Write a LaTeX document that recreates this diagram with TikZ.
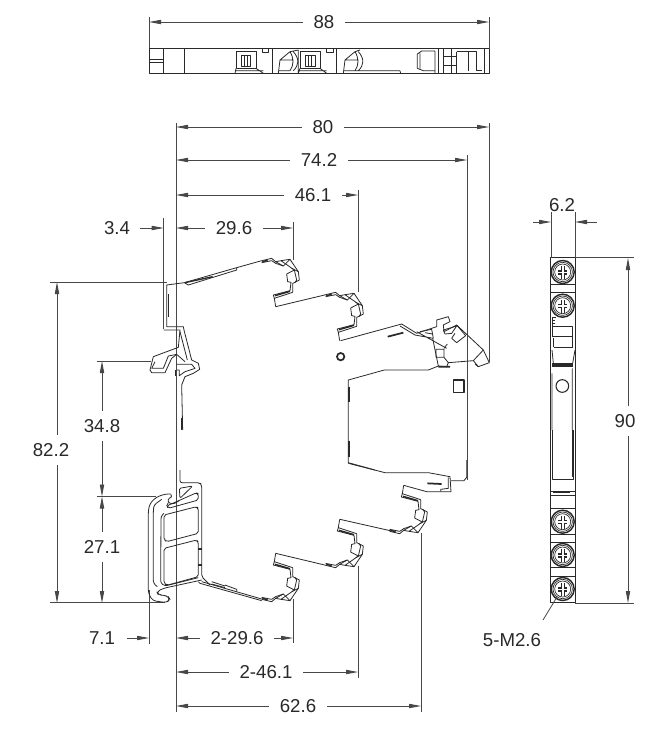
\documentclass[tikz,border=0pt]{standalone}
\usepackage{fontspec}
\setmainfont{Liberation Sans}
\usetikzlibrary{arrows.meta}
\definecolor{ink}{gray}{0.16}
\definecolor{dimink}{gray}{0.28}
\tikzset{
  part/.style={draw=ink,line width=0.6pt,line join=round},
  heavy/.style={draw=ink,line width=1.5pt},
  ext/.style={draw=dimink,line width=0.6pt},
  dimarrow/.style={draw=dimink,line width=0.6pt,-{Stealth[length=9pt,width=3.2pt,inset=0pt]}},
  dimlabel/.style={text=ink,font=\fontsize{14}{16}\selectfont,inner xsep=8pt,inner ysep=1pt,fill=white},
  zoomed/.style={scale=1/3}
}
% horizontal dimension with label in its line: name,y,x1,x2,xtext,text
\newcommand\hdimension[6]{%
  \node[dimlabel] (#1) at (#5,#2) {#6};
  \coordinate (#1L) at (#3,#2); \coordinate (#1R) at (#4,#2);
  \draw[dimarrow] (#1) -- (#1L); \draw[dimarrow] (#1) -- (#1R);}
% vertical dimension: name,x,y1,y2,ytext,text
\newcommand\vdimension[6]{%
  \node[dimlabel,inner xsep=1pt,inner ysep=6pt] (#1) at (#2,#5) {#6};
  \coordinate (#1T) at (#2,#3); \coordinate (#1B) at (#2,#4);
  \draw[dimarrow] (#1) -- (#1T); \draw[dimarrow] (#1) -- (#1B);}
\newcommand\extline[3]{\coordinate (e#1a) at (#2); \coordinate (e#1b) at (#3); \draw[ext] (e#1a) -- (e#1b);}
% one terminal claw, in zoomed coordinates
\newcommand\claw{%
  \draw[part] (20,32) -- (50,25) -- (62,35) -- (78,32) -- (105,28) -- (130,65) -- (133,90) -- (120,97) -- (113,100) -- (113,127) -- (58,145) -- (62,170);
  \draw[part] (20,38) -- (50,32) -- (62,40) -- (85,48) -- (105,28);
  \draw[part] (62,35) -- (85,48) (78,32) -- (118,60) -- (125,90) -- (120,97);
  \draw[part] (118,60) -- (95,72) -- (98,95) -- (108,97) -- (105,122) -- (55,135) -- (58,145) (110,55) -- (130,65);
  \draw[heavy,line width=1.1pt] (60,137) -- (105,124) (22,35) -- (38,31);}
\begin{document}
\begin{tikzpicture}[x=0.75pt,y=-0.75pt]
\useasboundingbox[fill=white] (0,0) rectangle (666,729);

% ---------- top view
\begin{scope}[shift={(130,0)},zoomed]
\draw[part] (57,146) rectangle (1078,220);
\draw[part] (57,178) -- (100,178) (57,188) -- (100,188) (100,146) -- (100,220) (162,146) -- (162,220);
\draw[part] (318,155) rectangle (378,205) (333,165) rectangle (362,200) (342,165) -- (342,200) (352,165) -- (352,200);
\draw[part] (318,205) -- (315,220) (378,205) -- (400,220) (315,212) -- (400,212);
\draw[part] (397,146) rectangle (415,158) (428,146) -- (428,220);
\draw[part] (445,220) -- (450,180) -- (480,155) -- (505,150) (450,180) -- (490,180) (480,155) .. controls (492,175) and (492,195) .. (480,212) (490,155) .. controls (508,175) and (508,195) .. (490,212) (445,212) -- (480,212);
\draw[part] (510,155) rectangle (570,205) (525,165) rectangle (555,200) (534,165) -- (534,200) (544,165) -- (544,200);
\draw[part] (505,150) -- (505,220) (510,205) -- (505,220) (570,205) -- (590,220) (505,212) -- (590,212);
\draw[part] (590,146) rectangle (610,158) (620,146) -- (620,220);
\draw[part] (640,220) -- (645,180) -- (675,155) -- (690,150) (645,180) -- (685,180) (675,155) .. controls (687,175) and (687,195) .. (675,212) (685,155) .. controls (703,175) and (703,195) .. (685,212) (640,212) -- (810,212) (810,212) -- (812,220);
\draw[part] (862,162) -- (875,153) -- (915,153) -- (915,220) (862,162) -- (862,205) -- (880,212) -- (915,212) (870,160) -- (870,205);
\draw[part] (925,146) -- (925,220) (940,146) -- (940,220) (965,146) -- (965,220) (980,155) -- (980,220) (940,170) -- (980,170) (940,195) -- (980,195) (980,155) -- (1038,155) -- (1038,212) -- (1055,212) (1015,155) -- (1015,212) (1062,146) -- (1062,220);
\end{scope}
\extline{ta}{149,17}{149,48}
\extline{tb}{489,17}{489,48}
\hdimension{d88}{22}{149}{489}{324}{88}

% ---------- extension lines, main view
\extline{a}{176,123}{176,712}
\extline{b}{489,123}{489,362}
\extline{c}{467,155}{467,480}
\extline{d}{358,190}{358,292}
\extline{e}{293,222}{293,260}
\extline{f}{163.7,218}{163.7,329}
\extline{g}{50,282}{167,282}
\extline{h}{97,361}{151,361}
\extline{i}{97,496.5}{156,496.5}
\extline{j}{50,602.7}{165,602.7}
\extline{k}{149,590}{149,644}
\extline{l}{293,599}{293,643}
\extline{m}{358,566}{358,678}
\extline{n}{421,533}{421,712}

% ---------- main view, dimensions
\hdimension{d80}{127}{176}{489}{323}{80}
\hdimension{d74}{160}{176}{467}{319}{74.2}
\hdimension{d46}{195}{176}{358}{313}{46.1}
\hdimension{d29}{228}{176}{293}{234}{29.6}
\node[dimlabel,inner xsep=7pt] (d34) at (117,228) {3.4};
\coordinate (d34e) at (163.7,228);
\draw[dimarrow] (d34) -- (d34e);
\hdimension{dm29}{638}{176}{293}{237}{2-29.6}
\hdimension{dm46}{672}{176}{358}{266}{2-46.1}
\hdimension{d62}{706}{176}{421}{298}{62.6}
\node[dimlabel,inner xsep=9pt] (d71) at (102,638) {7.1};
\coordinate (d71e) at (149,638);
\draw[dimarrow] (d71) -- (d71e);
% 82.2 sits left of its line
\node[dimlabel,inner xsep=1pt,inner ysep=6pt] (d82) at (51,450) {82.2};
\coordinate (d82T) at (57,282); \coordinate (d82B) at (57,603);
\draw[dimarrow] (d82.north -| d82T) -- (d82T);
\draw[dimarrow] (d82.south -| d82B) -- (d82B);
\vdimension{d348}{102}{361}{496.5}{426}{34.8}
\vdimension{d271}{102}{496.5}{603}{547}{27.1}

% ---------- upper left
\begin{scope}[shift={(130,230)},zoomed]
\draw[part] (163,158) -- (110,165) -- (110,290) -- (160,290) -- (162,300) -- (185,390) -- (205,400) -- (209,418) -- (190,430) -- (165,440) -- (155,465) -- (158,600);
\draw[part] (101,300) -- (150,300) -- (145,352) -- (70,380) -- (60,420) -- (65,428) -- (105,428) -- (125,385) -- (140,373) -- (165,395);
\draw[part] (75,395) -- (65,415) -- (100,415) -- (115,378) -- (140,373);
\draw[part] (150,305) -- (172,390) (140,403) -- (185,403) -- (195,415) -- (165,425) -- (148,437) -- (148,420) -- (140,420);
\draw[heavy,line width=1.2pt] (115,192) -- (115,262) (155,565) -- (155,600) (137,420) -- (137,438);
\draw[part] (163,158) -- (175,165) -- (320,120) -- (320,113) -- (395,92) (163,158) -- (320,113);
\draw[part] (437,230) -- (588,194);
\draw[heavy,line width=1pt] (165,158) -- (248,140);
\end{scope}

% ---------- repeating terminals (upper)
\foreach \dx/\dy in {0/0,64/34}{
\begin{scope}[shift={(\dx,\dy)},shift={(255,250)},zoomed]
\claw
\end{scope}}

% ---------- relay and upper right
\begin{scope}[shift={(320,270)},zoomed]
\draw[part] (62,212) -- (245,162) -- (290,190) -- (350,170) -- (350,150) -- (385,140) -- (390,155) -- (370,165) -- (372,185) -- (410,165) -- (490,240) -- (508,278) -- (475,290) -- (460,272) -- (385,278) -- (380,290) -- (355,288) -- (338,205);
\draw[part] (240,168) -- (285,195) -- (340,205) (290,185) -- (380,235) (348,238) rectangle (372,262) (355,288) -- (325,300) -- (193,300) -- (85,330) -- (85,578) -- (165,600);
\draw[part] (372,262) -- (385,278) (372,235) -- (382,222) (300,185) -- (335,178) -- (340,205) (315,188) -- (338,192) (370,180) -- (410,168) -- (395,190) -- (375,192) -- (370,180) (395,205) -- (410,218) -- (437,197) (395,205) -- (405,190) (460,272) -- (490,240) (465,282) -- (475,290) (410,165) -- (437,197);
\draw[part,line width=0.8pt] (400,330) rectangle (432,368);
\draw[heavy,line width=1.3pt] (203,200) -- (250,188) (355,290) -- (390,290);
\draw[heavy,line width=1pt] (87,350) -- (87,397) (87,512) -- (87,560);
\draw[ink,line width=1.3pt] (62,260) circle (11);
\end{scope}
\begin{scope}[shift={(320,460)},zoomed]
\draw[part] (85,10) -- (195,38) -- (325,38) -- (390,50) -- (393,95) -- (320,95) -- (251,76);
\draw[part] (385,52) -- (385,85) -- (362,88) -- (362,95) (393,62) -- (432,62) -- (440,52) -- (440,0);
\draw[part] (60,178) -- (215,213);
\draw[heavy,line width=1.3pt] (322,70) -- (365,72);
\end{scope}

% ---------- repeating terminals (lower, mirrored)
\foreach \dx/\dy in {0/0,64/-34,128/-68}{
\begin{scope}[shift={(\dx,\dy)},shift={(255,610)},xscale=1/3,yscale=-1/3]
\claw
\end{scope}}

% ---------- lower block
\begin{scope}[shift={(130,470)},zoomed]
\draw[part] (215,335) -- (395,387) (205,335) -- (210,340) -- (395,392) (437,250) -- (588,286);
\draw[part] (245,335) -- (285,348) (245,342) -- (285,353) (285,345) -- (320,358) -- (320,365);
\end{scope}
\begin{scope}[shift={(140,480)},zoomed]
\draw[part,rounded corners=1.5pt] (120,-30) -- (120,8) -- (180,8) -- (185,15) -- (185,290) -- (210,315);
\draw[part,rounded corners=1.5pt] (72,105) -- (170,80) -- (175,85) -- (175,160) -- (80,185) -- (72,180) -- cycle;
\draw[part,rounded corners=1.5pt] (72,205) -- (170,180) -- (175,185) -- (175,290) -- (80,316) -- (72,310) -- cycle;
\draw[part,rounded corners=1.5pt] (80,78) -- (170,38) -- (175,42) -- (175,60) -- (85,85) -- cycle;
\draw[part,rounded corners=1pt] (118,25) -- (158,18) -- (120,55) -- cycle;
\draw[part,rounded corners=2.5pt] (92,42) -- (75,42) -- (48,52) -- (30,70) -- (25,90) -- (25,340) -- (38,362) -- (80,368) -- (90,358) -- (85,350) -- (70,345) -- (55,345) -- (50,335) -- (70,325) -- (185,300);
\draw[part,rounded corners=2pt] (65,58) -- (42,75) -- (40,90) -- (40,310) -- (52,320) (72,100) -- (63,108) -- (62,310) -- (75,318) -- (175,293);
\draw[part,rounded corners=1pt] (92,42) -- (96,52) -- (85,55) -- (85,68) -- (100,72) -- (118,62) (85,68) -- (80,78);
\draw[heavy,line width=1.2pt] (175,207) -- (187,207) (175,255) -- (187,255);
\end{scope}

% ---------- side view
\foreach \yy in {272,305.7,521.7,555,589}{
\begin{scope}[shift={(562.7,\yy)}]
\draw[ink,line width=1.1pt] (0,0) circle (11.5);
\draw[ink,line width=0.5pt] (0,0) circle (9.7) (0,0) circle (8);
\draw[ink,line width=0.9pt] (-4.5,-1) -- (-1.5,-1) -- (-1.5,-6) (1.5,-6) -- (1.5,-1) -- (4.5,-1) (-4.5,2) -- (-1.5,2) -- (-1.5,7) (1.5,7) -- (1.5,2) -- (4.5,2);
\end{scope}}
\begin{scope}[shift={(530,240)},zoomed]
\draw[part] (62,52) -- (135,52) (62,133) -- (135,133) (62,157) -- (135,157) (62,52) -- (62,570) (135,52) -- (135,570);
\draw[part] (66,232) -- (78,232) (66,240) -- (76,240) (66,250) -- (76,250) (66,232) -- (66,290) (66,258) rectangle (128,288) (70,295) -- (70,322) (128,288) -- (128,322) (72,322) -- (128,322);
\draw[part] (66,330) -- (70,370) (135,330) -- (128,370) (66,400) -- (66,570) (127,385) -- (127,570);
\draw[ink,line width=2.4pt] (66,375) -- (130,375);
\draw[part,line width=0.8pt] (97,438) circle (19);
\end{scope}
\begin{scope}[shift={(530,430)},zoomed]
\draw[part] (62,0) -- (62,518) -- (135,518) -- (135,0) (66,0) -- (66,148) -- (130,148) -- (130,0) (127,0) -- (127,140);
\draw[part] (62,183) -- (135,183) (70,188) -- (120,188) (62,195) -- (135,195) (62,235) -- (135,235) (62,312) -- (135,312) (62,338) -- (135,338) (62,412) -- (135,412) (62,438) -- (135,438);
\end{scope}
\extline{sa}{551,212}{551,258}
\extline{sb}{575,212}{575,258}
\extline{sc}{575,257}{634,257}
\extline{sd}{575,603}{634,603}
\node[dimlabel,inner xsep=1pt,fill=none] (d62w) at (562,205) {6.2};
\coordinate (s1) at (533,222); \coordinate (s1e) at (551,222);
\coordinate (s2) at (597,222); \coordinate (s2e) at (575,222);
\draw[dimarrow] (s1) -- (s1e);
\draw[dimarrow] (s2) -- (s2e);
% 90 sits left of its line
\node[dimlabel,inner xsep=1pt,inner ysep=6pt] (d90) at (625,421) {90};
\coordinate (d90T) at (628,258); \coordinate (d90B) at (628,603);
\draw[dimarrow] (d90.north -| d90T) -- (d90T);
\draw[dimarrow] (d90.south -| d90B) -- (d90B);
\node[dimlabel,inner xsep=1pt] (m26) at (512,640) {5-M2.6};
\coordinate (lead) at (557,597);
\coordinate (leadb) at (543,620);
\draw[ext] (leadb) -- (lead);
\end{tikzpicture}
\end{document}
